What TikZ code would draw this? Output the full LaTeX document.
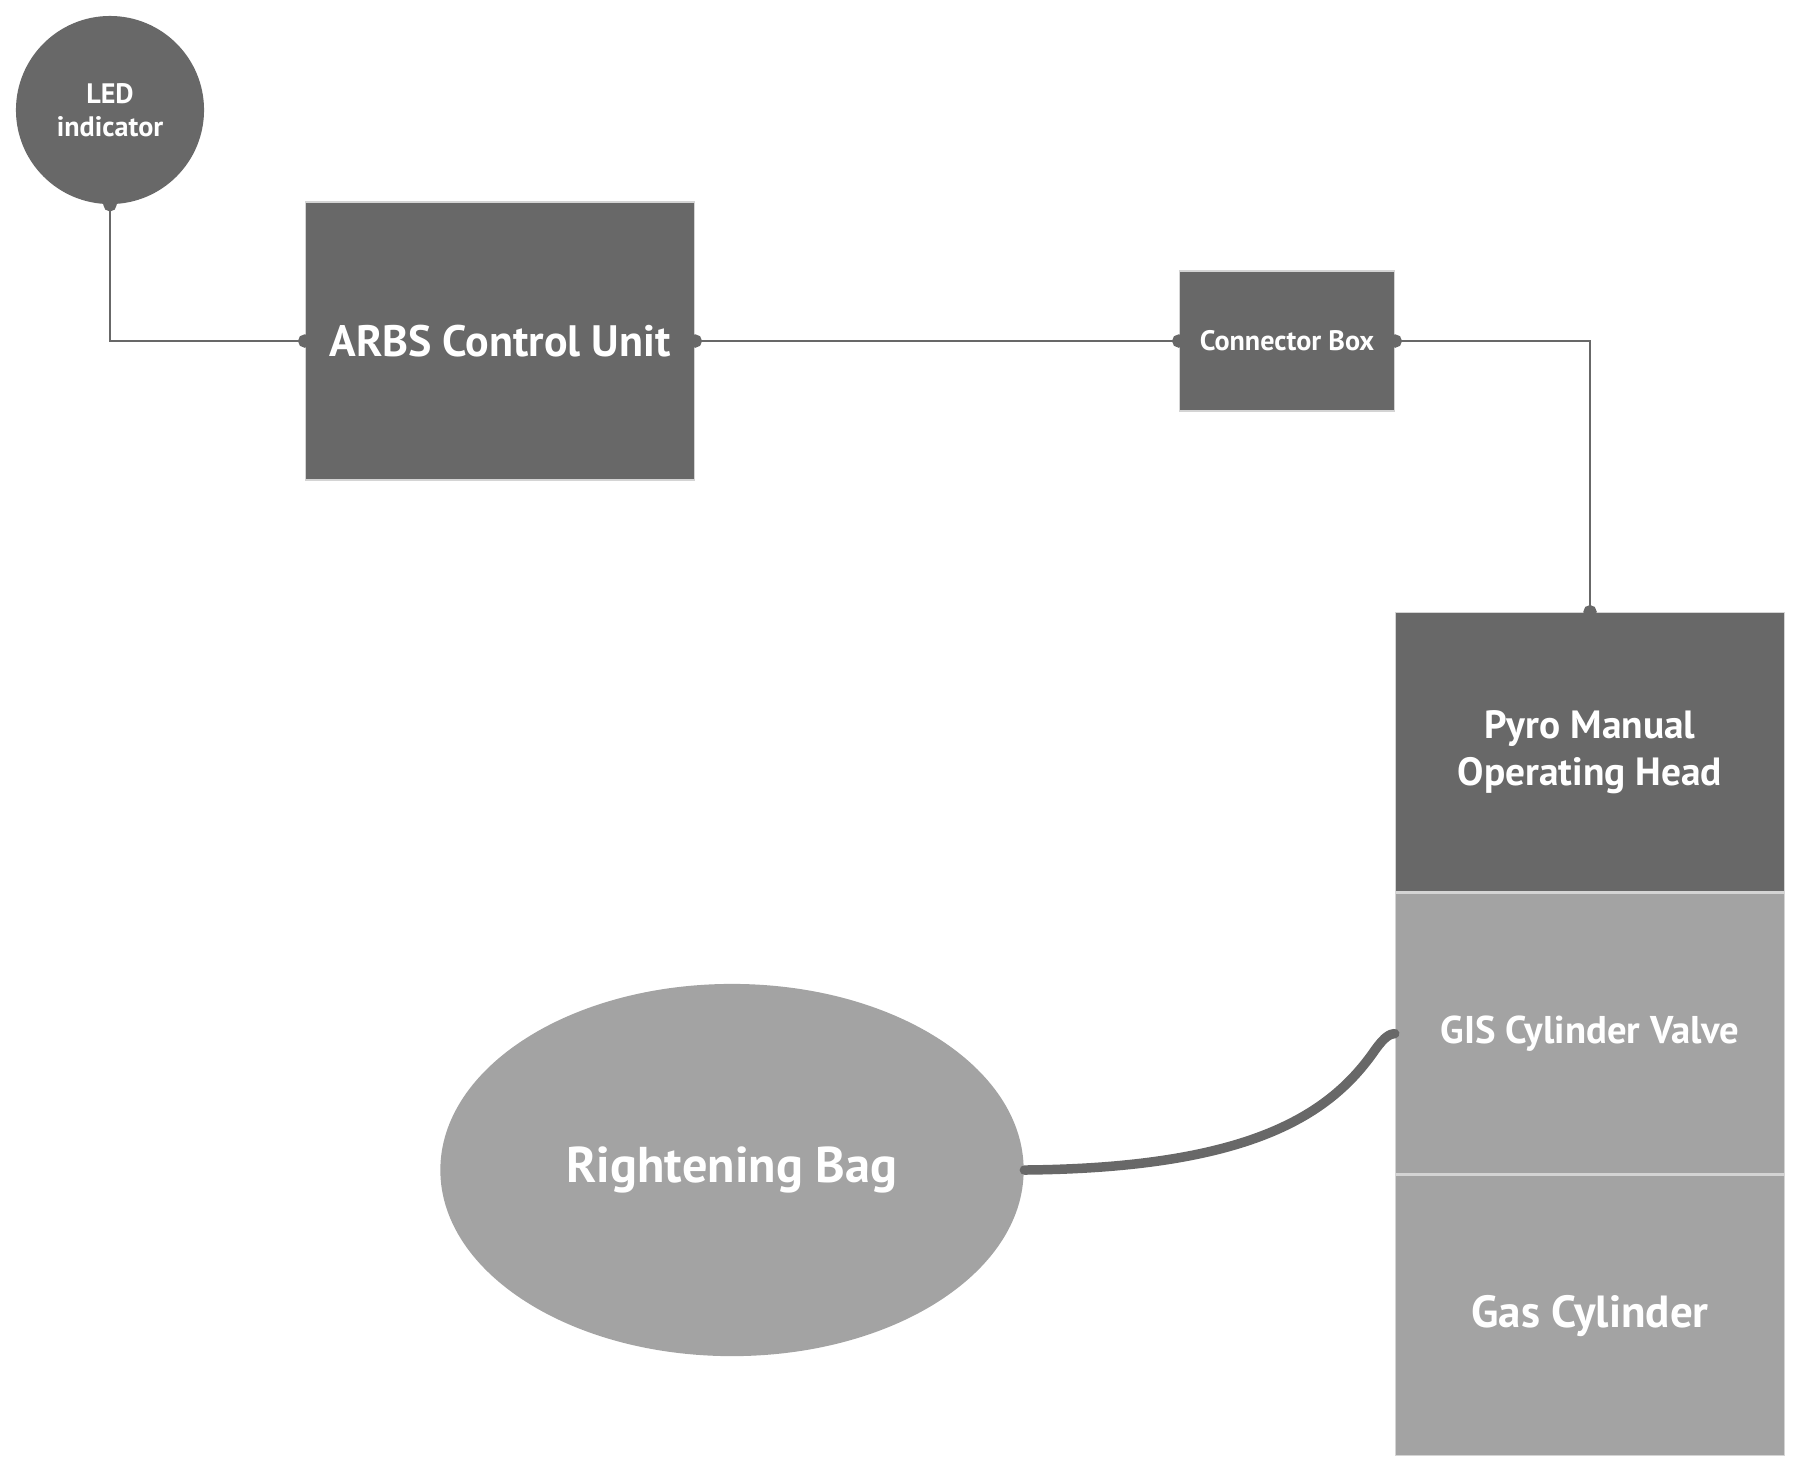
\documentclass[tikz,border=0pt]{standalone}
\usepackage{fontspec}
\setmainfont{PT Sans}
\usetikzlibrary{positioning,shapes.geometric,arrows.meta}
\definecolor{darkbox}{HTML}{686868}
\definecolor{lightbox}{HTML}{A3A3A3}
\definecolor{boxline}{HTML}{D4D4D4}

\tikzset{
    unitbox/.style={rectangle,draw=boxline,line width=0.4pt,fill=darkbox,text=white,align=center,inner sep=0pt},
    wire/.style={draw=darkbox,line width=0.6pt,{Circle[length=3.8pt]}-{Circle[length=3.8pt]},
                 shorten <=-1.9pt,shorten >=-1.9pt},
    hose/.style={draw=darkbox,line width=2.7pt,line cap=round}
}

\begin{document}
\begin{tikzpicture}[x={(0.01cm,0)},y={(0,-0.01cm)}]
\useasboundingbox (0,0) rectangle (1800,1468);

\begin{scope}[every node/.style={unitbox,font=\bfseries}]
    \node (led)[circle,draw=none,minimum size=1.88cm,font=\bfseries\fontsize{8}{9.5}\selectfont] at (110,110) {LED\\indicator};
    \node (arbs)[minimum width=3.89cm,minimum height=2.78cm,font=\bfseries\fontsize{12.5}{14}\selectfont] at (500,341) {ARBS Control Unit};
    \node (cbox)[minimum width=2.15cm,minimum height=1.40cm,font=\bfseries\fontsize{8}{9}\selectfont] at (1287,341) {Connector Box};
    \node (pyro)[minimum width=3.89cm,minimum height=2.79cm,font=\bfseries\fontsize{11.2}{13.4}\selectfont] at (1590,752) {Pyro Manual\\Operating Head};
    \node (valve)[below=0pt of pyro,fill=lightbox,minimum width=3.89cm,minimum height=2.81cm,font=\bfseries\fontsize{11}{13}\selectfont] {GIS Cylinder Valve};
    \node (gas)[below=0pt of valve,fill=lightbox,minimum width=3.89cm,minimum height=2.80cm,font=\bfseries\fontsize{12.8}{14}\selectfont] {Gas Cylinder};
    \node (bag)[ellipse,draw=none,fill=lightbox,minimum width=5.83cm,minimum height=3.72cm,font=\bfseries\fontsize{14.3}{16}\selectfont] at (732,1170) {Rightening Bag};
\end{scope}

\begin{scope}
    \path[wire] (led.south) |- (arbs.west);
    \path[wire] (arbs.east) -- (cbox.west);
    \path[wire] (cbox.east) -| (pyro.north);
    \path[hose] (bag.east) .. controls (1250,1168) and (1330,1115) .. (1375,1050)
        .. controls (1385,1036) and (1390,1034) .. (valve.west);
\end{scope}
\end{tikzpicture}
\end{document}
